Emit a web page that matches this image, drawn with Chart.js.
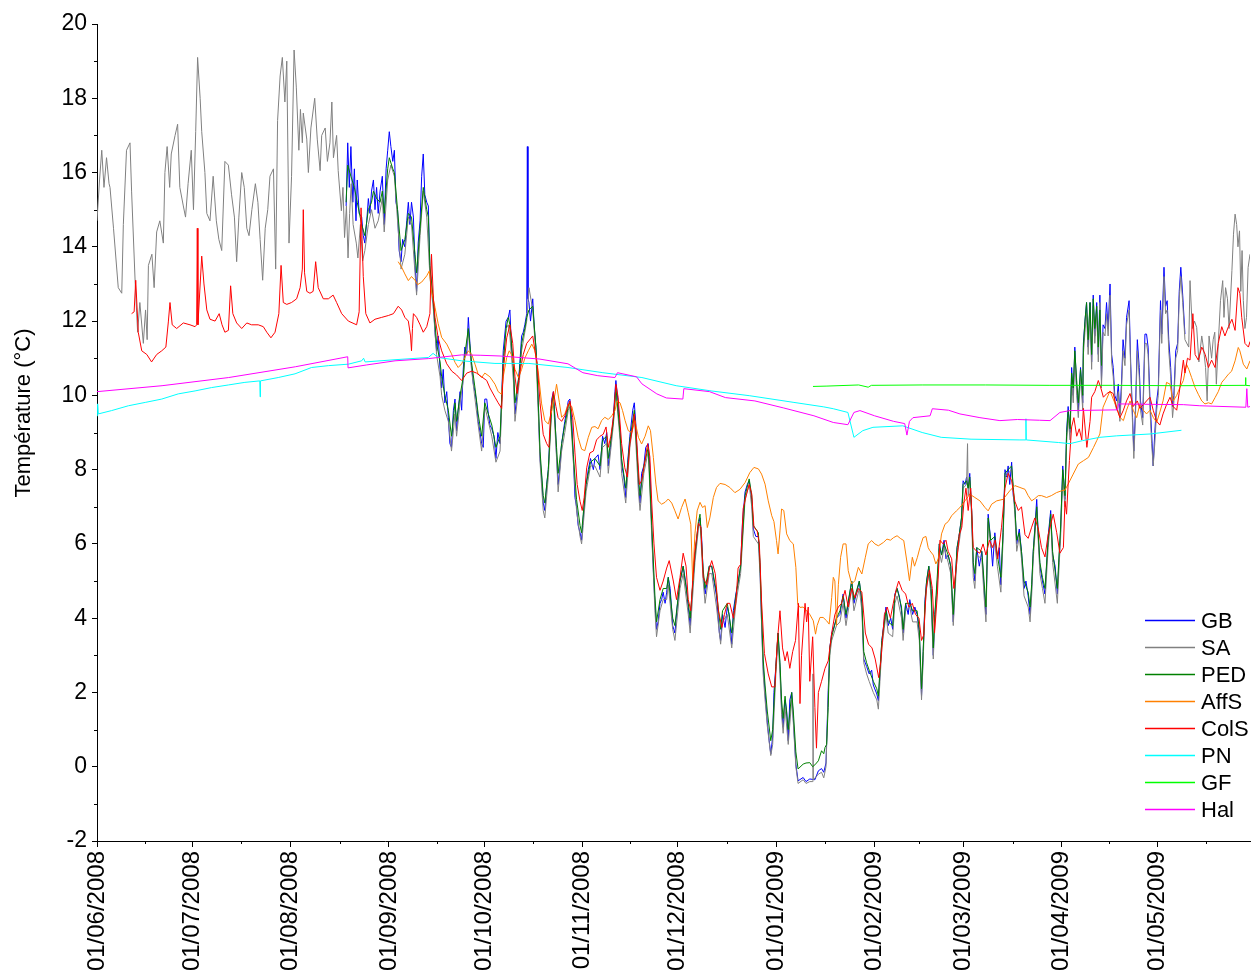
<!DOCTYPE html>
<html>
<head>
<meta charset="utf-8">
<script src="https://cdn.jsdelivr.net/npm/chart.js@4.4.1/dist/chart.umd.min.js"></script>
<style>
  body { margin: 0; background: #fff; }
  canvas { display: block; }
</style>
</head>
<body>
<canvas id="tempChart" width="1251" height="977"></canvas>
<script>
// x values are days since 01/06/2008
var tickDays = [0, 30, 61, 92, 122, 153, 183, 214, 245, 273, 304, 334];
var tickLabels = ['01/06/2008','01/07/2008','01/08/2008','01/09/2008','01/10/2008','01/11/2008',
                  '01/12/2008','01/01/2009','01/02/2009','01/03/2009','01/04/2009','01/05/2009'];
var seriesNames = ['GB','SA','PED','AffS','ColS','PN','GF','Hal'];
var yTitle = 'Température (°C)';

var gbData = [[78.5,15.1],[79.0,16.8],[79.5,15.6],[80.0,16.7],[80.6,15.2],[81.1,16.1],[81.6,14.7],[82.0,15.8],[82.6,14.9],[83.4,14.8],[83.9,14.3],[84.4,14.1],[85.0,14.7],[85.5,15.3],[86.0,14.9],[86.5,15.5],[87.1,15.8],[87.6,15.0],[88.1,15.6],[88.6,14.9],[89.2,15.5],[89.9,15.9],[90.5,14.6],[91.1,16.1],[91.6,16.6],[92.1,17.1],[92.6,16.7],[93.2,16.3],[93.7,16.6],[94.2,15.2],[94.7,15.0],[95.2,13.9],[95.8,13.6],[96.3,14.2],[97.0,14.0],[97.6,14.7],[98.1,15.2],[98.6,14.6],[99.1,15.2],[99.7,14.8],[100.2,13.5],[100.7,12.8],[101.2,14.1],[101.8,14.7],[102.3,15.9],[102.8,16.5],[103.3,15.4],[103.9,15.2],[104.4,15.1],[104.9,13.4],[105.4,13.0],[106.0,12.5],[106.5,11.7],[107.0,11.2],[107.5,11.6],[108.1,10.7],[108.6,10.2],[109.1,10.7],[109.6,9.8],[110.2,10.1],[110.7,9.4],[111.2,8.7],[111.7,8.6],[112.3,9.6],[112.8,9.9],[113.3,9.05],[113.8,9.6],[114.4,10.1],[114.9,9.6],[115.4,10.7],[115.9,11.3],[116.5,11.1],[117.0,12.1],[117.5,11.4],[118.0,10.8],[118.6,10.3],[119.1,10.1],[119.6,9.8],[120.1,9.3],[120.7,9.0],[121.2,8.7],[121.7,8.6],[122.2,9.9],[122.8,9.9],[123.3,9.5],[123.8,9.2],[124.4,9.1],[125.1,8.9],[125.7,8.3],[126.3,9.0],[127.0,8.7],[127.5,9.9],[128.0,11.2],[128.9,12.0],[129.6,12.1],[130.1,12.3],[130.6,11.3],[131.2,10.7],[131.7,9.5],[132.2,9.9],[133.1,10.7],[133.8,11.6],[134.3,11.7],[134.8,11.9],[135.4,12.2],[135.6,16.7],[135.8,12.6],[136.1,12.5],[136.6,12.0],[137.3,12.6],[137.8,11.8],[138.3,11.3],[138.7,10.7],[139.2,9.3],[139.6,8.3],[140.1,7.8],[140.6,7.1],[141.1,6.9],[141.7,7.6],[142.2,8.0],[142.7,8.9],[143.3,9.9],[143.8,10.1],[144.3,9.4],[144.8,8.4],[145.3,7.6],[145.9,8.1],[146.4,8.7],[146.9,9.0],[147.4,9.3],[148.0,9.6],[148.5,9.85],[149.0,9.9],[149.6,9.3],[150.1,8.3],[150.6,7.25],[151.1,7.0],[151.6,6.5],[152.2,6.3],[152.7,6.1],[153.2,6.7],[154.1,7.6],[154.8,8.0],[155.5,8.3],[156.4,8.0],[156.9,8.3],[157.9,8.4],[158.5,8.0],[159.3,8.9],[160.0,8.7],[160.6,9.0],[161.1,8.1],[161.8,8.6],[162.7,9.4],[163.2,10.1],[163.5,10.4],[164.1,9.9],[164.8,9.05],[165.3,8.15],[166.0,7.8],[166.6,7.25],[167.2,8.2],[167.9,8.9],[168.8,9.6],[169.3,9.8],[169.8,9.2],[170.6,7.6],[171.1,7.1],[171.6,7.9],[172.3,8.1],[172.9,8.6],[173.7,8.7],[174.2,8.1],[174.8,6.35],[175.3,5.3],[175.8,4.4],[176.3,3.7],[176.8,3.9],[177.4,4.4],[177.9,4.5],[178.4,4.7],[179.0,4.4],[179.5,4.7],[180.0,5.1],[180.6,4.8],[181.4,3.8],[182.1,3.6],[182.8,4.3],[183.7,5.0],[184.7,5.4],[185.6,4.9],[186.3,4.3],[186.9,3.8],[187.7,4.9],[188.4,5.7],[189.5,6.5],[190.0,6.7],[190.5,6.2],[191.0,5.2],[191.6,4.65],[192.3,5.0],[192.9,5.4],[193.7,5.4],[194.4,5.0],[195.2,4.6],[196.1,3.6],[196.5,3.4],[197.1,4.1],[197.9,3.75],[198.6,4.3],[199.2,4.1],[200.0,3.3],[200.5,4.2],[201.3,4.65],[202.1,5.0],[202.8,5.4],[203.4,6.6],[204.2,7.4],[204.9,7.6],[205.5,7.7],[206.3,7.2],[206.8,6.4],[207.6,6.2],[208.4,6.2],[208.9,5.4],[209.4,3.9],[209.9,2.7],[210.5,2.0],[211.2,1.2],[211.8,0.7],[212.3,0.34],[212.9,0.8],[213.3,2.0],[213.9,2.7],[214.6,3.6],[215.2,2.7],[215.7,1.6],[216.2,1.06],[216.8,1.8],[217.3,1.5],[217.8,0.7],[218.3,1.8],[218.9,2.0],[219.4,1.3],[220.2,0.07],[220.9,-0.38],[222.5,-0.29],[223.4,-0.4],[224.6,-0.33],[226.2,-0.35],[227.3,-0.11],[228.3,-0.05],[229.0,-0.15],[229.7,0.1],[230.4,2.05],[230.9,3.2],[231.5,3.6],[232.0,3.7],[233.0,4.0],[234.1,4.1],[235.1,4.65],[236.0,4.0],[236.7,4.4],[237.8,5.0],[238.5,4.4],[239.4,4.7],[240.2,5.0],[241.0,4.4],[241.6,2.9],[242.5,2.7],[243.3,2.5],[244.1,2.6],[244.6,2.2],[245.7,1.96],[246.2,1.78],[246.7,2.5],[247.3,3.4],[248.0,3.9],[248.6,4.3],[249.3,3.8],[250.1,4.0],[250.7,3.7],[251.4,4.65],[252.1,4.8],[252.8,4.6],[253.5,4.2],[254.0,3.6],[254.8,4.4],[255.6,4.1],[256.1,4.5],[257.0,4.1],[257.7,4.3],[258.4,4.1],[259.1,3.6],[259.8,1.9],[260.3,3.0],[260.9,4.5],[261.4,5.0],[262.1,5.4],[262.8,4.8],[263.5,3.0],[264.0,4.1],[264.7,4.8],[265.4,6.0],[266.1,5.7],[266.9,6.1],[267.5,5.6],[268.2,5.7],[269.0,5.4],[269.8,3.9],[270.3,4.8],[271.0,5.9],[271.6,6.2],[272.4,6.7],[272.9,7.7],[273.5,7.6],[274.0,7.8],[274.5,7.5],[275.0,7.9],[275.6,6.9],[276.1,5.4],[276.6,5.0],[277.2,5.9],[278.0,5.4],[278.8,5.8],[279.5,4.8],[280.1,4.1],[280.8,6.8],[281.6,6.1],[282.2,5.4],[282.9,6.3],[283.7,5.6],[284.3,5.9],[284.8,4.9],[285.5,6.3],[286.1,8.0],[286.6,7.8],[287.1,8.1],[287.6,7.6],[288.2,8.2],[288.7,7.3],[289.2,7.0],[289.8,6.0],[290.6,6.4],[291.3,5.8],[292.1,4.8],[292.7,5.0],[293.4,4.6],[294.0,4.1],[294.5,4.8],[295.0,5.8],[296.1,7.2],[296.6,6.2],[297.1,5.4],[297.9,5.0],[298.7,4.65],[299.2,5.4],[299.7,6.2],[300.5,6.9],[301.1,5.7],[301.9,5.4],[302.6,4.65],[303.2,5.7],[303.6,6.3],[304.3,8.1],[305.0,7.2],[305.5,9.0],[306.0,9.7],[306.6,9.0],[307.1,10.75],[307.6,10.0],[308.1,11.3],[308.7,10.2],[309.2,9.6],[309.9,10.75],[310.6,9.8],[310.8,11.4],[311.3,12.0],[311.8,12.5],[312.3,11.3],[312.9,12.5],[313.4,10.9],[313.9,12.7],[314.4,11.6],[315.0,12.5],[315.5,11.1],[316.0,12.7],[316.5,10.4],[317.0,11.9],[317.6,11.8],[318.1,12.5],[318.6,11.8],[319.2,13.0],[319.7,11.1],[320.2,10.75],[320.7,10.0],[321.3,9.85],[321.8,10.3],[322.3,9.5],[322.8,10.3],[323.3,11.5],[323.9,11.0],[324.4,12.1],[325.2,12.55],[325.7,10.9],[326.3,9.4],[326.7,8.5],[327.2,9.6],[327.8,11.5],[328.4,10.75],[328.8,9.85],[329.5,9.4],[330.2,11.65],[330.7,11.65],[331.2,11.3],[331.8,9.85],[332.3,9.0],[332.8,8.1],[333.3,9.0],[333.9,9.85],[334.4,10.2],[335.1,12.55],[335.5,11.65],[336.2,13.45],[336.7,12.4],[337.2,12.55],[337.7,11.5],[338.3,10.75],[338.9,9.7],[339.3,10.0],[339.9,11.2],[340.5,11.4],[341.0,12.8],[341.5,13.45],[342.1,12.7],[342.8,11.65]];

var saData = [[0,14.7],[0.8,15.8],[1.5,16.6],[2.2,15.6],[3.0,16.4],[3.8,15.7],[4.1,15.6],[5.2,14.5],[6.7,12.9],[7.8,12.75],[8.3,14.6],[9.3,16.6],[10.4,16.8],[10.9,15.5],[12.0,13.1],[12.8,11.7],[13.5,12.5],[14.6,11.4],[15.3,12.3],[15.8,11.5],[16.2,13.5],[17.3,13.8],[18.0,12.9],[18.8,14.4],[19.8,14.7],[20.9,14.1],[21.4,16.0],[22.1,16.7],[22.9,15.6],[23.4,16.5],[24.6,17.0],[25.4,17.3],[26.1,15.6],[27.2,15.1],[27.9,14.8],[28.7,15.7],[29.7,16.6],[30.4,15.0],[31.1,17.1],[31.7,19.1],[32.5,18.0],[33.0,17.1],[34.0,16.0],[34.6,14.9],[35.6,14.7],[36.6,15.9],[37.6,14.7],[38.4,14.2],[39.3,13.9],[40.3,16.3],[41.4,16.2],[42.4,15.4],[43.3,14.8],[44.0,13.6],[44.7,14.8],[45.6,16.0],[46.4,15.6],[47.2,14.5],[47.9,14.3],[48.8,15.0],[49.9,15.7],[50.7,15.2],[51.4,14.2],[52.2,13.1],[53.0,14.5],[53.8,15.0],[54.5,15.9],[55.6,16.1],[56.3,13.4],[56.9,17.4],[57.7,18.6],[58.4,19.1],[59.2,17.9],[59.8,19.0],[60.5,14.1],[61.3,15.9],[62.1,19.3],[62.8,18.3],[63.6,16.6],[64.1,17.7],[64.7,16.8],[65.0,17.6],[66.1,16.9],[66.6,16.0],[67.4,17.2],[68.6,18.0],[69.4,16.9],[70.3,16.05],[70.8,17.0],[71.9,17.2],[72.6,16.3],[73.4,16.8],[74.0,17.9],[74.5,16.4],[75.5,17.0],[76.0,16.05],[77.0,14.97],[77.5,15.6],[78.0,14.25],[78.6,15.1],[79.1,13.7],[79.6,14.9],[80.1,15.7],[80.7,14.6],[81.7,14.1],[82.2,13.7],[83.0,14.6],[83.7,13.62],
  [84.4,13.9],[85.5,14.6],[86.5,15.0],[87.6,14.5],[88.6,14.7],[89.9,15.3],[90.5,14.4],[91.6,15.8],[92.6,16.2],[93.7,15.9],[94.7,14.7],[95.8,13.4],[97.0,13.8],[98.1,14.8],[99.1,14.6],[100.2,13.3],[100.7,12.7],[101.8,14.3],[102.8,15.5],[103.9,14.8],[104.9,13.2],[106.0,12.3],[107.0,11.1],[108.1,10.5],[108.6,10.0],[109.6,9.6],[110.7,9.3],[111.7,8.5],[112.8,9.5],[113.3,8.9],[114.4,9.8],[115.4,10.4],[115.9,11.0],[117.0,11.7],[118.0,10.7],[119.1,9.9],[120.1,9.2],[121.2,8.5],[122.2,9.7],[123.3,9.3],[124.4,8.9],[125.7,8.2],[127.0,8.5],[128.0,10.8],[128.9,11.8],[129.6,11.9],[130.1,11.6],[131.2,10.4],[131.7,9.3],[133.1,10.4],[133.8,11.2],[134.8,11.7],[135.4,12.0],[136.1,12.9],[137.3,12.3],[138.3,11.1],[139.2,9.2],[139.6,8.2],[140.6,6.9],[141.1,6.7],[142.2,7.8],[143.3,9.7],[143.8,9.9],[144.8,8.3],[145.3,7.4],[146.4,8.5],[147.4,9.0],[148.5,9.6],[149.0,9.7],[150.1,8.2],[151.1,6.9],[152.2,6.2],[152.7,6.0],[153.2,6.5],[154.1,7.4],[155.5,8.1],[156.9,8.1],[158.5,7.8],[159.3,8.6],[160.6,8.7],[161.1,7.9],[162.7,9.2],[163.5,10.1],[164.8,8.8],[165.3,7.9],[166.6,7.1],[167.9,8.6],[169.3,9.5],[170.6,7.4],[171.1,6.9],[172.3,7.9],[173.7,8.5],[174.8,6.2],[175.8,4.2],[176.3,3.5],[177.4,4.2],[178.4,4.5],[179.5,4.5],[180.0,4.9],[181.4,3.7],[182.1,3.4],[183.7,4.8],[184.7,5.2],[186.3,4.1],[186.9,3.6],[188.4,5.5],[189.5,6.4],[190.0,6.6],[191.0,5.0],[191.6,4.4],[192.9,5.2],[193.7,5.2],[195.2,4.3],[196.5,3.3],[197.1,3.9],[198.6,4.1],[200.0,3.2],[201.3,4.4],[202.8,5.2],[204.2,7.2],[205.5,7.6],[206.3,7.0],[206.8,6.2],[208.4,6.0],[208.9,5.2],[209.9,2.5],[210.5,1.8],[211.2,1.1],[212.3,0.3],[212.9,0.6],[213.9,2.5],[214.6,3.4],[215.2,2.5],[215.7,1.4],[216.2,0.9],[216.8,1.6],[217.8,0.6],[218.9,1.8],[219.4,1.2],[220.2,0.0],[220.9,-0.45],[222.5,-0.35],[223.4,-0.45],[224.6,-0.4],[225.5,-0.4],[225.6,2.5],[225.7,-0.35],[227.3,-0.2],[228.3,-0.15],[229.0,-0.3],[229.7,0.0],[230.4,1.9],[230.9,3.0],[231.5,3.4],[233.0,3.8],[234.1,3.9],[235.1,4.4],[236.0,3.8],[237.8,4.8],[238.5,4.2],[240.2,4.8],[241.0,4.2],[241.6,2.8],[242.5,2.5],[243.3,2.3],[244.6,2.0],[245.7,1.8],[246.2,1.55],[246.7,2.3],[247.3,3.2],[248.6,4.1],[249.3,3.6],[250.7,3.5],[251.4,4.4],[252.1,4.6],[253.5,4.0],[254.0,3.4],[254.8,4.2],[256.1,4.3],[257.0,3.9],[258.4,3.9],[259.1,3.4],[259.8,1.8],[260.3,2.8],[260.9,4.3],[261.4,4.8],[262.1,5.2],[262.8,4.6],[263.5,2.9],[264.0,3.9],[265.4,5.8],[266.1,5.5],[266.9,5.9],[268.2,5.5],[269.0,5.2],[269.8,3.8],[271.0,5.7],[271.6,6.0],[272.4,6.5],[272.9,7.5],[274.0,7.6],[274.3,8.7],[274.5,7.3],[275.0,7.7],[275.6,6.7],[276.1,5.1],[276.6,4.8],[277.2,5.7],[278.8,5.6],[279.5,4.6],[280.1,3.9],[280.8,6.6],[281.6,5.9],[282.9,6.0],[283.7,5.4],[284.8,4.7],[285.5,6.1],[286.1,7.8],[287.1,7.9],[288.2,8.0],[289.2,6.8],[289.8,5.8],[290.6,6.2],[291.3,5.6],[292.1,4.6],[293.4,4.3],[294.0,3.9],[294.5,4.6],[295.0,5.6],[296.1,6.9],[297.1,5.2],[297.9,4.8],[298.7,4.4],[299.7,5.9],[300.5,6.7],[301.1,5.5],[302.6,4.4],[303.2,5.5],[303.6,6.1],[304.3,7.8],[305.0,7.0],[305.5,8.7],[306.0,9.4],[306.6,8.8],[307.1,10.5],[307.6,9.8],[308.1,11.0],[308.7,10.0],[309.2,9.4],[309.9,10.5],[310.6,9.6],[310.8,11.1],[311.3,11.7],[311.8,12.2],[312.3,11.1],[312.9,12.2],[313.4,10.7],[313.9,12.4],[314.4,11.4],[315.0,12.2],[315.5,10.9],[316.0,12.5],[316.5,10.2],[317.0,11.7],[317.6,11.6],[318.1,12.2],[318.6,11.6],[319.2,12.7],[319.7,10.9],[320.2,10.5],[320.7,9.8],[321.3,9.6],[321.8,10.1],[322.3,9.3],[322.8,10.1],[323.3,11.2],[323.9,10.8],[324.4,11.9],[325.2,12.3],[325.7,10.7],[326.3,9.2],[326.7,8.3],[327.2,9.4],[327.8,11.2],[328.4,10.5],[328.8,9.6],[329.5,9.2],[330.2,11.4],[330.7,11.4],[331.2,11.1],[331.8,9.6],[332.3,8.7],[332.8,8.1],[333.3,8.7],[333.9,9.6],[334.4,10.0],[335.1,12.3],[335.5,11.4],[336.2,13.2],[336.7,12.2],[337.2,12.3],[337.7,11.2],[338.3,10.5],[338.9,9.4],[339.3,9.8],[339.9,11.0],[340.5,11.2],[341.0,12.6],[341.5,13.2],[342.1,12.5],[342.8,11.5],
  [344.0,11.3],[344.4,13.09],[345.1,11.8],[345.8,12.0],[346.5,11.83],[347.2,10.9],[348.1,11.6],[348.6,11.3],[349.3,10.75],[349.8,9.85],[350.4,11.6],[351.2,11.0],[351.7,11.5],[352.2,11.7],[352.7,10.3],[353.3,11.4],[354.0,12.55],[354.7,13.09],[355.1,12.1],[355.6,12.9],[356.2,12.6],[356.7,11.8],[357.6,13.36],[358.1,14.34],[358.6,14.88],[359.1,14.6],[359.5,14.0],[360.0,14.43],[360.4,12.8],[360.8,13.9],[361.2,12.55],[361.7,11.8],[362.2,12.1],[362.7,13.44],[363.3,13.8]];

var pedData = [[78.5,15.2],[79.0,16.2],[80.0,15.9],[81.1,15.6],[82.0,15.2],[83.4,14.6],[84.4,14.3],[85.5,15.0],[86.5,15.2],[87.1,15.5],[88.1,15.3],[89.2,15.2],[89.9,15.5],[90.5,14.9],[91.6,16.1],[92.1,16.4],[93.2,16.1],[93.7,16.0],[94.7,15.0],[95.8,13.9],[97.0,14.2],[98.1,14.9],[99.1,14.8],[100.2,13.8],[100.7,13.3],[101.8,14.5],[102.8,15.6],[103.9,15.0],[104.4,14.8],[104.9,13.5],[106.0,12.5],[107.0,11.4],[108.1,10.9],[108.6,10.5],[109.6,10.0],[110.7,9.6],[111.7,8.9],[112.8,9.8],[113.3,9.3],[114.4,10.0],[115.4,10.5],[115.9,11.1],[117.0,11.8],[118.0,10.9],[119.1,10.2],[120.1,9.5],[121.2,8.9],[122.2,9.8],[123.3,9.5],[124.4,9.2],[125.7,8.6],[127.0,8.9],[128.0,10.9],[128.9,11.8],[129.6,12.1],[130.1,11.9],[131.2,10.8],[131.7,9.8],[133.1,10.6],[133.8,11.4],[134.8,11.8],[135.4,12.1],[136.1,12.3],[137.3,12.4],[138.3,11.3],[139.2,9.5],[139.6,8.5],[140.6,7.3],[141.1,7.1],[142.2,8.0],[143.3,9.8],[143.8,10.0],[144.8,8.6],[145.3,7.9],[146.4,8.7],[147.4,9.2],[148.5,9.7],[149.0,9.8],[150.1,8.4],[151.1,7.2],[152.2,6.5],[152.7,6.3],[153.2,6.8],[154.1,7.6],[155.5,8.2],[156.9,8.3],[158.5,8.1],[159.3,8.8],[160.6,8.9],[161.1,8.3],[162.7,9.3],[163.5,10.2],[164.8,9.0],[165.3,8.3],[166.6,7.5],[167.9,8.8],[169.3,9.6],[170.6,7.8],[171.1,7.3],[172.3,8.1],[173.7,8.6],[174.8,6.5],[175.8,4.6],[176.3,3.9],[177.4,4.5],[178.4,4.8],[179.5,4.8],[180.0,5.1],[181.4,4.0],[182.1,3.8],[183.7,5.0],[184.7,5.4],[186.3,4.4],[186.9,4.0],[188.4,5.7],[189.5,6.6],[190.0,6.8],[191.0,5.3],[191.6,4.8],[192.9,5.4],[193.7,5.4],[195.2,4.7],[196.5,3.7],[197.1,4.2],[198.6,4.4],[200.0,3.6],[201.3,4.6],[202.8,5.4],[204.2,7.3],[205.5,7.75],[206.3,7.3],[206.8,6.5],[208.4,6.3],[208.9,5.5],[209.9,2.9],[210.5,2.2],[211.2,1.5],[212.3,0.7],[212.9,1.0],[213.9,2.7],[214.6,3.6],[215.2,2.8],[215.7,1.8],[216.2,1.3],[216.8,1.9],[217.8,1.0],[218.9,2.0],[219.4,1.5],[220.2,0.4],[220.9,-0.06],[222.5,0.07],[223.4,0.1],[224.6,0.11],[225.5,0.0],[226.2,0.05],[227.3,0.16],[228.3,0.43],[229.0,0.35],[229.4,0.52],[229.9,0.6],[230.4,1.6],[230.9,3.2],[231.5,3.5],[233.0,4.0],[234.1,4.2],[235.1,4.6],[236.0,4.1],[237.8,5.0],[238.5,4.5],[240.2,5.0],[241.0,4.5],[241.6,3.1],[242.5,2.8],[243.3,2.6],[244.6,2.3],[245.7,2.1],[246.2,1.9],[246.7,2.6],[247.3,3.4],[248.6,4.2],[249.3,3.9],[250.7,3.8],[251.4,4.6],[252.1,4.8],[253.5,4.3],[254.0,3.7],[254.8,4.4],[256.1,4.4],[257.0,4.2],[258.4,4.2],[259.1,3.7],[259.8,2.1],[260.3,3.1],[260.9,4.4],[261.4,5.0],[262.1,5.4],[262.8,4.8],[263.5,3.2],[264.0,4.1],[265.4,6.0],[266.1,5.7],[266.9,6.0],[268.2,5.7],[269.0,5.4],[269.8,4.1],[271.0,5.9],[271.6,6.2],[272.4,6.7],[272.9,7.6],[274.0,7.7],[274.5,7.5],[275.0,7.8],[275.6,6.9],[276.1,5.5],[276.6,5.2],[277.2,5.9],[278.8,5.8],[279.5,5.0],[280.1,4.3],[280.8,6.7],[281.6,6.1],[282.9,6.2],[283.7,5.7],[284.8,5.1],[285.5,6.3],[286.1,7.9],[287.1,8.0],[288.2,8.1],[289.2,7.0],[289.8,6.1],[290.6,6.3],[291.3,5.8],[292.1,5.0],[293.4,4.7],[294.0,4.3],[294.5,4.9],[295.0,5.8],[296.1,7.0],[297.1,5.5],[297.9,5.1],[298.7,4.8],[299.7,6.1],[300.5,6.8],[301.1,5.8],[302.6,4.8],[303.2,5.8],[303.6,6.4],[304.3,8.0],[305.0,7.3],[305.5,8.9],[306.0,9.6],[306.6,9.1],[307.1,10.6],[307.6,10.2],[308.1,11.2],[308.7,10.4],[309.2,9.8],[309.9,10.7],[310.6,10.0],[310.8,11.3],[311.3,12.0],[311.8,12.5],[312.3,11.5],[312.9,12.5],[313.4,11.1],[313.9,12.6],[314.4,11.8],[315.0,12.4],[315.5,11.3],[316.0,12.3],[316.5,10.8]];

var affsData = [[94.9,13.6],[96.0,13.45],[97.0,13.27],[98.1,13.09],[99.1,13.2],[100.2,13.1],[101.0,12.98],[102.3,13.05],[103.9,13.22],[104.7,13.35],[105.4,12.82],[106.5,12.37],[107.5,11.93],[108.6,11.56],[110.2,11.38],[111.7,11.12],[112.8,10.89],[113.8,10.75],[114.9,10.85],[115.9,11.02],[117.0,11.2],[118.1,11.1],[119.1,10.84],[120.1,10.57],[121.2,10.48],[122.2,10.6],[123.8,10.5],[125.4,10.3],[126.4,10.1],[127.5,10.03],[128.0,10.5],[129.1,11.02],[129.9,11.2],[130.6,11.1],[131.7,10.7],[132.8,10.48],[133.8,10.7],[134.8,11.0],[135.9,11.2],[137.0,11.38],[138.0,11.2],[139.0,10.66],[140.1,9.77],[141.1,9.32],[142.2,9.23],[143.3,9.59],[144.3,10.03],[144.8,10.3],[145.7,9.8],[146.4,9.41],[147.4,9.5],[148.5,9.77],[149.6,9.7],[150.6,9.32],[151.6,8.87],[152.7,8.55],[153.7,8.51],[154.8,8.87],[155.9,9.14],[156.9,9.16],[157.9,9.1],[159.0,9.32],[160.0,9.41],[161.1,9.35],[162.2,9.45],[163.2,9.59],[163.9,9.85],[164.8,9.8],[165.6,9.59],[166.4,9.32],[167.4,9.05],[168.5,9.0],[169.5,9.32],[170.6,8.87],[171.6,8.69],[172.7,8.9],[173.7,9.18],[174.4,9.05],[175.3,8.33],[176.1,7.61],[176.8,7.16],[177.9,7.07],[179.0,7.12],[180.0,7.21],[181.1,7.1],[182.1,6.89],[183.1,6.67],[184.2,6.98],[185.3,7.21],[186.3,6.84],[187.1,6.53],[187.7,5.0],[188.4,6.27],[189.1,6.89],[190.0,7.12],[190.8,6.98],[191.6,7.03],[192.3,6.44],[193.1,6.7],[194.2,7.25],[195.2,7.52],[196.3,7.63],[197.9,7.6],[199.4,7.52],[201.0,7.38],[202.6,7.47],[204.2,7.65],[205.7,7.92],[207.0,8.06],[208.4,8.02],[209.4,7.88],[210.5,7.61],[211.5,7.16],[212.6,6.76],[213.3,6.6],[214.1,6.09],[214.6,5.73],[215.2,6.35],[215.7,6.94],[216.4,6.9],[217.3,6.27],[218.3,6.09],[219.4,6.0],[220.2,5.37],[220.8,4.38],[221.5,4.29],[222.5,4.3],[223.6,4.2],[224.6,4.1],[225.7,3.93],[226.4,3.57],[226.9,3.8],[227.8,4.02],[228.8,4.02],[229.9,3.93],[230.7,3.84],[231.5,4.56],[232.0,5.1],[232.5,5.0],[233.0,3.8],[233.6,4.9],[234.3,5.64],[235.1,6.0],[236.0,6.0],[236.7,5.28],[237.8,4.92],[238.8,5.01],[239.9,5.37],[241.0,5.19],[242.1,5.64],[243.0,6.0],[244.1,6.09],[245.1,6.0],[246.2,5.95],[247.8,6.04],[248.9,6.13],[250.0,6.1],[251.0,6.17],[252.1,6.22],[253.1,6.15],[254.2,6.09],[255.3,5.46],[256.0,5.01],[256.9,5.64],[257.6,5.4],[258.5,5.64],[259.3,5.9],[260.3,6.17],[261.2,6.2],[261.9,5.9],[262.4,5.82],[263.5,5.7],[264.3,5.46],[265.1,5.6],[266.1,6.27],[267.2,6.53],[268.2,6.6],[269.3,6.76],[270.8,6.89],[271.9,6.98],[273.5,7.16],[275.0,7.34],[276.6,7.25],[278.2,7.16],[279.8,6.98],[280.8,6.89],[281.9,7.07],[283.5,7.16],[285.5,7.2],[287.6,7.43],[289.2,7.57],[290.8,7.52],[292.4,7.47],[293.4,7.3],[294.5,7.16],[295.5,7.22],[296.6,7.3],[297.6,7.3],[299.2,7.25],[300.7,7.3],[302.3,7.38],[303.9,7.43],[305.0,7.45],[306.0,7.61],[307.6,7.88],[309.2,8.15],[310.8,8.24],[312.4,8.33],[314.0,8.6],[315.0,8.78],[316.0,8.96],[317.0,9.68],[318.1,9.9],[319.2,10.12],[320.2,9.9],[321.3,9.68],[322.3,9.41],[323.4,9.32],[324.4,9.6],[325.5,9.85],[326.5,9.6],[327.6,9.4],[328.6,9.77],[329.7,9.6],[330.7,9.5],[331.8,9.6],[332.8,9.41],[333.9,9.27],[334.9,9.55],[335.9,9.85],[337.0,10.35],[338.1,10.3],[339.1,9.85],[340.2,10.0],[341.2,10.21],[342.3,10.4],[343.3,10.84],[344.0,10.7],[344.9,10.48],[346.0,10.21],[347.0,10.03],[348.1,9.85],[349.1,9.77],[350.2,9.8],[351.2,9.77],[352.3,9.94],[353.3,10.1],[354.4,10.35],[355.4,10.45],[356.5,10.57],[357.5,10.65],[358.6,10.93],[359.6,11.29],[360.1,11.2],[361.2,10.84],[362.3,10.71],[363.3,10.93]];

var colsData = [[10.9,12.2],[11.7,12.25],[12.2,13.1],[13.0,11.7],[14.1,11.2],[15.7,11.1],[17.2,10.9],[18.8,11.1],[20.4,11.2],[21.7,11.3],[22.5,12.0],[23.0,12.5],[23.7,11.9],[25.1,11.8],[27.2,11.95],[29.3,11.9],[30.9,11.85],[31.4,11.9],[31.6,14.5],[31.8,11.9],[33.0,13.75],[33.7,13.0],[34.6,12.3],[35.6,12.05],[37.2,12.0],[38.5,12.2],[39.4,11.9],[40.3,11.7],[41.4,11.75],[42.1,12.95],[42.8,12.2],[44.0,11.95],[45.6,11.8],[47.2,11.95],[48.7,11.9],[50.8,11.9],[52.4,11.85],[53.5,11.7],[54.8,11.55],[56.1,11.7],[57.3,12.2],[58.0,13.5],[58.7,12.5],[59.8,12.45],[61.3,12.5],[62.9,12.6],[64.0,12.9],[64.7,13.4],[65.0,15.0],[65.4,13.3],[66.1,12.8],[67.1,12.75],[68.1,12.8],[68.9,13.6],[69.7,12.9],[71.3,12.6],[72.9,12.6],[74.4,12.7],[75.5,12.5],[77.1,12.2],[79.2,12.0],[81.8,11.9],[82.6,12.25],[83.2,15.05],[83.9,13.2],[84.7,12.2],[86.0,11.95],[87.6,12.05],[89.7,12.1],[91.8,12.15],[93.4,12.2],[94.9,12.4],[96.0,12.3],[97.0,12.1],[98.1,12.0],[98.8,11.6],[99.1,11.2],[99.4,11.8],[99.7,12.2],[100.7,12.1],[101.8,11.9],[102.8,11.7],[103.9,11.85],[104.9,12.2],[105.4,13.8],[106.0,12.6],[106.5,12.1],[107.5,11.55],[108.6,11.2],[110.2,10.85],[111.8,10.65],[113.3,10.55],[114.9,10.4],[116.5,10.6],[118.1,10.65],[119.6,10.6],[121.2,10.5],[122.8,10.4],[123.8,10.2],[125.4,9.95],[126.4,9.8],[127.5,9.65],[128.0,10.65],[129.1,11.55],[130.1,11.9],[131.0,11.4],[131.7,10.5],[132.4,10.05],[133.3,10.65],[134.3,11.1],[135.4,11.4],[137.3,11.6],[138.0,11.2],[138.7,10.85],[139.6,9.8],[140.6,8.95],[141.7,8.7],[142.4,8.6],[143.0,9.65],[143.8,10.1],[144.6,9.7],[145.3,9.4],[146.4,9.3],[147.4,9.45],[148.2,9.65],[149.0,9.85],[149.9,9.4],[150.6,8.45],[151.3,7.6],[152.2,7.15],[152.9,6.9],[153.5,7.25],[154.3,8.05],[155.3,8.45],[156.4,8.5],[157.4,8.8],[158.5,8.9],[159.5,8.95],[160.4,9.15],[161.1,8.6],[161.9,8.9],[162.7,9.4],[163.5,10.3],[164.2,9.95],[165.3,8.7],[166.3,8.05],[167.1,7.8],[167.9,8.7],[168.8,9.15],[169.3,9.5],[170.0,8.85],[170.9,7.6],[171.6,7.7],[172.7,8.25],[173.5,8.7],[174.2,8.35],[174.8,7.1],[175.5,6.0],[176.3,5.1],[177.4,4.75],[178.4,5.0],[179.5,5.35],[180.3,5.55],[181.6,5.0],[182.6,4.5],[183.7,5.1],[184.7,5.75],[185.6,5.4],[186.3,4.5],[187.1,4.2],[187.7,5.0],[188.4,5.8],[189.5,6.55],[190.3,6.45],[191.0,5.1],[192.1,4.9],[193.0,5.35],[193.7,5.55],[194.8,5.2],[195.8,4.2],[196.9,3.75],[197.7,4.1],[198.6,4.4],[199.4,4.4],[200.5,4.0],[201.3,4.4],[202.0,5.35],[202.8,5.45],[203.6,6.95],[204.7,7.35],[205.5,7.6],[206.3,7.35],[207.0,6.45],[208.0,6.35],[208.7,6.0],[209.4,4.45],[210.3,3.05],[211.5,2.5],[212.6,2.15],[213.6,2.15],[214.3,3.3],[215.2,4.2],[216.0,3.2],[216.8,2.85],[217.5,3.1],[218.3,2.65],[219.2,3.1],[220.1,3.4],[221.0,4.4],[221.5,1.7],[222.0,3.0],[223.1,4.4],[223.6,3.9],[224.1,4.3],[224.6,2.3],[225.5,3.5],[226.2,1.6],[226.7,0.5],[227.3,2.0],[228.3,2.3],[229.4,2.65],[230.4,2.85],[231.5,3.6],[232.5,4.1],[233.6,4.3],[234.6,4.4],[235.7,4.75],[236.7,4.3],[237.8,4.8],[238.8,4.55],[239.9,4.8],[241.0,4.7],[242.1,3.6],[243.1,3.3],[244.2,3.2],[245.2,2.9],[246.3,2.4],[247.0,2.85],[248.1,4.1],[249.0,4.3],[250.0,4.0],[250.9,4.4],[251.9,4.8],[252.6,5.0],[253.7,4.75],[254.8,4.65],[255.8,4.3],[256.9,4.4],[257.9,4.1],[259.0,4.0],[259.8,3.4],[260.5,3.55],[261.3,4.8],[262.3,5.3],[263.2,4.8],[263.9,3.6],[264.8,4.65],[265.6,6.1],[266.6,6.0],[267.5,6.1],[268.2,5.8],[269.3,5.6],[270.0,4.8],[270.9,5.5],[271.7,6.25],[272.5,6.45],[273.2,7.15],[273.8,7.5],[274.5,6.9],[275.3,7.5],[276.1,5.9],[277.2,5.8],[278.2,5.75],[279.2,6.0],[280.1,5.7],[281.2,6.1],[282.2,5.9],[283.0,6.1],[283.8,5.6],[285.0,6.45],[286.1,7.5],[287.1,7.9],[288.2,7.7],[289.2,7.15],[290.3,6.9],[291.3,7.0],[292.4,6.25],[293.4,6.15],[294.5,6.45],[295.5,6.7],[296.6,6.4],[297.6,5.9],[298.7,5.65],[299.7,6.25],[300.3,6.45],[301.3,6.8],[302.4,6.3],[303.4,5.75],[304.5,5.9],[305.0,7.15],[305.5,6.8],[306.4,8.25],[307.1,9.15],[307.8,9.4],[308.7,8.9],[309.5,9.1],[310.3,8.8],[310.8,9.65],[311.9,8.6],[312.9,9.3],[313.4,9.95],[314.4,10.1],[315.5,10.4],[316.3,10.2],[317.1,9.95],[318.2,10.05],[319.2,10.1],[320.2,10.05],[321.3,9.65],[322.3,9.4],[323.4,9.6],[324.4,9.85],[325.5,10.05],[326.5,9.7],[327.8,9.85],[328.6,9.65],[329.7,9.75],[330.7,9.85],[331.8,9.95],[332.8,9.6],[333.9,9.3],[334.9,9.2],[335.9,9.5],[337.0,9.75],[338.1,9.95],[339.1,9.7],[340.2,9.6],[341.2,10.2],[342.3,10.95],[342.8,10.6],[343.6,11.0],[344.4,10.95],[345.3,12.2],[346.0,11.1],[347.0,10.95],[348.1,11.3],[349.2,11.1],[350.2,10.75],[351.2,10.95],[352.3,10.75],[353.3,11.4],[354.4,11.85],[355.4,11.6],[356.5,11.85],[357.6,12.05],[358.6,11.75],[359.5,12.9],[360.1,12.75],[360.7,12.1],[361.7,11.4],[362.8,11.3],[363.3,11.45]];

var pnData = [[0,9.45],[0.2,9.77],[0.4,9.5],[4.6,9.59],[9.9,9.72],[15.2,9.81],[20.4,9.9],[25.6,10.04],[30.9,10.12],[36.1,10.21],[41.4,10.28],[46.6,10.35],[51.3,10.39],[51.4,9.96],[51.5,10.39],[57.1,10.48],[62.4,10.58],[67.6,10.75],[72.9,10.8],[79.2,10.84],[83.4,10.93],[84.0,11.0],[84.5,10.9],[93.9,10.96],[104.4,11.02],[105.9,11.13],[107.5,11.02],[114.9,10.93],[125.4,10.86],[136.1,10.86],[148.4,10.75],[159.4,10.61],[171.7,10.48],[182.5,10.26],[193.5,10.12],[205.7,9.99],[219.6,9.81],[229.0,9.69],[232.0,9.64],[236.6,9.54],[238.5,8.87],[241.3,9.05],[244.5,9.14],[253.9,9.18],[260.0,9.0],[266.0,8.87],[275.4,8.82],[290.8,8.8],[292.6,8.8],[292.7,9.37],[292.8,8.8],[303.0,8.73],[306.6,8.7],[310.5,8.78],[316.0,8.87],[321.3,8.91],[331.8,8.96],[341.7,9.06]];

var gfData = [[225.6,10.24],[230,10.25],[240,10.28],[243,10.22],[244,10.27],[260,10.28],[280,10.28],[300,10.27],[320,10.27],[340,10.26],[361.8,10.27],[361.9,10.48],[362.0,10.27],[363.3,10.26]];

var halData = [[0,10.1],[20.5,10.26],[41.5,10.48],[62.5,10.77],[79.0,11.04],[79.1,10.74],[85,10.82],[93.9,10.93],[104.4,10.99],[114.9,11.09],[120.7,11.08],[127,11.06],[139.3,10.98],[148.4,10.85],[153.1,10.61],[157.8,10.53],[163.2,10.48],[164,10.61],[170,10.5],[171.7,10.31],[176.4,10.04],[179.4,9.93],[184.6,9.9],[184.9,10.18],[193,10.1],[198,9.94],[207.3,9.85],[216.4,9.66],[225.9,9.45],[232,9.27],[236.6,9.21],[238.5,9.54],[240.4,9.59],[245,9.45],[251,9.3],[254.5,9.24],[255.2,8.93],[256,9.3],[257.1,9.4],[262.5,9.45],[263.2,9.64],[268.3,9.6],[271.9,9.5],[278.2,9.4],[284.5,9.32],[290,9.35],[297,9.33],[300.3,9.32],[303.4,9.54],[306.6,9.59],[321.5,9.61],[321.9,9.77],[330,9.76],[342.3,9.75],[347.5,9.72],[362,9.68],[362.3,10.18],[362.6,9.68],[363.3,9.7]];

var seriesColors = ['#0000ff','#808080','#008000','#ff8000','#ff0000','#00ffff','#00ff00','#ff00ff'];
var allData = [gbData, saData, pedData, affsData, colsData, pnData, gfData, halData];

var fontFamily = "'Liberation Sans', Arial, sans-serif";

// minor ticks, y title and legend drawn on top
var extras = {
  id: 'extras',
  afterDraw: function(chart) {
    var ctx = chart.ctx, a = chart.chartArea, xs = chart.scales.x, ys = chart.scales.y;
    ctx.save();
    ctx.strokeStyle = '#000';
    ctx.lineWidth = 1;
    ctx.beginPath();
    for (var v = -1; v < 20; v += 2) {
      var py = Math.round(ys.getPixelForValue(v)) + 0.5;
      ctx.moveTo(a.left - 3, py); ctx.lineTo(a.left, py);
    }
    for (var i = 0; i < tickDays.length; i++) {
      var nxt = i + 1 < tickDays.length ? tickDays[i + 1] : tickDays[i] + 31;
      var px = Math.round(xs.getPixelForValue((tickDays[i] + nxt) / 2)) + 0.5;
      if (px > a.right) continue;
      ctx.moveTo(px, a.bottom); ctx.lineTo(px, a.bottom + 3);
    }
    ctx.stroke();

    ctx.fillStyle = '#000';
    ctx.save();
    ctx.translate(24, 413);
    ctx.rotate(-Math.PI / 2);
    ctx.font = '22px ' + fontFamily;
    ctx.textAlign = 'center';
    ctx.textBaseline = 'middle';
    ctx.fillText(yTitle, 0, 0);
    ctx.restore();

    ctx.font = '22px ' + fontFamily;
    ctx.textBaseline = 'middle';
    ctx.lineWidth = 1.4;
    for (var k = 0; k < seriesNames.length; k++) {
      var ly = 620.5 + k * 27;
      ctx.strokeStyle = seriesColors[k];
      ctx.beginPath();
      ctx.moveTo(1145, ly); ctx.lineTo(1195, ly);
      ctx.stroke();
      ctx.fillText(seriesNames[k], 1201, ly + 1);
    }
    ctx.restore();
  }
};

var datasets = seriesNames.map(function(name, i) {
  return {
    label: name,
    data: allData[i].map(function(p) { return {x: p[0], y: p[1]}; }),
    borderColor: seriesColors[i],
    backgroundColor: seriesColors[i],
    borderWidth: 1,
    pointRadius: 0,
    fill: false,
    order: seriesNames.length - i
  };
});

var ctx = document.getElementById('tempChart').getContext('2d');
var tempChart = new Chart(ctx, {
  type: 'line',
  data: { datasets: datasets },
  options: {
    responsive: false,
    animation: false,
    devicePixelRatio: 1,
    layout: { padding: { top: 24, right: 1, left: 0, bottom: 0 } },
    plugins: { legend: { display: false }, tooltip: { enabled: false } },
    scales: {
      x: {
        type: 'linear',
        min: 0,
        max: 363.3,
        afterBuildTicks: function(s) { s.ticks = tickDays.map(function(d) { return {value: d}; }); },
        afterFit: function(s) { s.height = 136; },
        border: { color: '#000', width: 1 },
        grid: { drawOnChartArea: false, tickLength: 6, color: '#000' },
        ticks: {
          autoSkip: false, maxRotation: 90, minRotation: 90, padding: 4, color: '#000',
          font: { family: fontFamily, size: 24 },
          callback: function(v, i) { return tickLabels[i]; }
        }
      },
      y: {
        min: -2,
        max: 20,
        afterFit: function(s) { s.width = 97; },
        border: { color: '#000', width: 1 },
        grid: { drawOnChartArea: false, tickLength: 5, color: '#000' },
        ticks: { stepSize: 2, padding: 5, color: '#000', font: { family: fontFamily, size: 23 } }
      }
    }
  },
  plugins: [extras]
});
</script>
</body>
</html>
